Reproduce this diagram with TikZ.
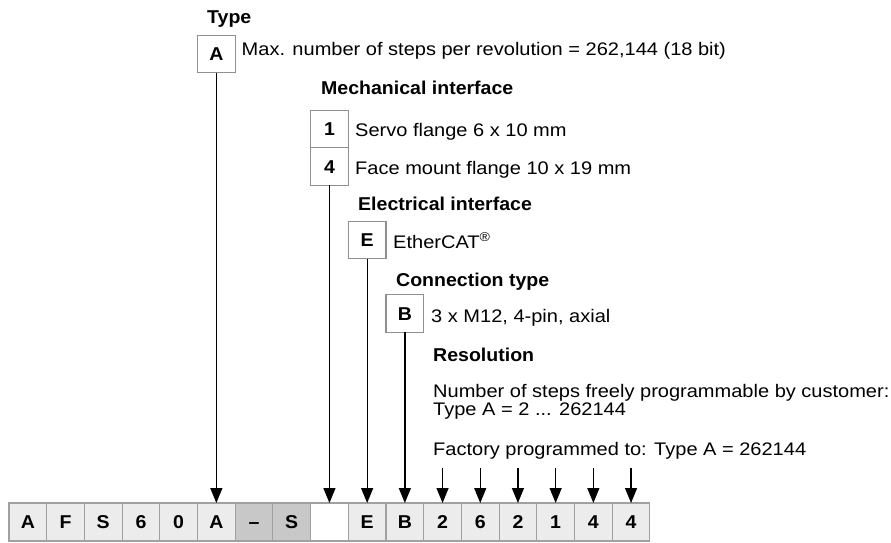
\documentclass[tikz,border=0pt]{standalone}
\usepackage{fontspec}
\setmainfont{Liberation Sans}
\newfontfamily\bodyf[FakeStretch=1.10]{Liberation Sans}
\newfontfamily\titlef[FakeStretch=1.05]{Liberation Sans}
\usetikzlibrary{arrows.meta}
\definecolor{cellfill}{HTML}{ECECEC}
\definecolor{celldark}{HTML}{C8C8C8}
\definecolor{cellborder}{HTML}{A0A0A0}
\definecolor{boxborder}{HTML}{909090}
\begin{document}
\begin{tikzpicture}[x=1pt,y=-1pt,
  cell/.style={draw=cellborder, line width=1.1pt, fill=cellfill, minimum width=37.7pt, minimum height=38pt, inner sep=0pt, outer sep=0pt, text height=13.4pt, text depth=0pt, font=\titlef\bfseries\fontsize{18.6}{20}\selectfont},
  keybox/.style={draw=boxborder, line width=1.1pt, fill=white, minimum width=37.7pt, minimum height=37.5pt, inner sep=0pt, outer sep=0pt, text height=13.4pt, text depth=0pt, font=\titlef\bfseries\fontsize{18.6}{20}\selectfont},
  title/.style={anchor=base west, inner sep=0pt, font=\titlef\bfseries\fontsize{18.6}{22}\selectfont},
  desc/.style={anchor=base west, inner sep=0pt, font=\bodyf\fontsize{18.2}{22}\selectfont},
  conn/.style={line width=1.3pt, -{Triangle[width=12pt,length=15pt]}}]
\useasboundingbox (0,0) rectangle (891,542);

% code cells
\node[cell] (c0) at (27.85,522) {A};
\node[cell] (c1) at (65.55,522) {F};
\node[cell] (c2) at (103.25,522) {S};
\node[cell] (c3) at (140.95,522) {6};
\node[cell] (c4) at (178.65,522) {0};
\node[cell] (c5) at (216.35,522) {A};
\node[cell, fill=celldark] (c6) at (254.05,522) {–};
\node[cell, fill=celldark] (c7) at (291.75,522) {S};
\node[cell, fill=white] (c8) at (329.45,522) {};
\node[cell] (c9) at (367.15,522) {E};
\node[cell] (c10) at (404.85,522) {B};
\node[cell] (c11) at (442.55,522) {2};
\node[cell] (c12) at (480.25,522) {6};
\node[cell] (c13) at (517.95,522) {2};
\node[cell] (c14) at (555.65,522) {1};
\node[cell] (c15) at (593.35,522) {4};
\node[cell] (c16) at (631.05,522) {4};

% key boxes
\node[keybox] (bA) at (216.35,54) {A};
\node[keybox] (b1) at (329.45,129) {1};
\node[keybox] (b4) at (329.45,166.5) {4};
\node[keybox] (bE) at (367.15,240) {E};
\node[keybox] (bB) at (404.85,313.5) {B};

% texts
\node[title] (tType) at (207,23.5) {Type};
\node[desc] (dA) at (241.5,55.5) {Max. number of steps per revolution = 262,144 (18 bit)};
\node[title] (tMech) at (321,94.5) {Mechanical interface};
\node[desc] (d1) at (355,136.5) {Servo flange 6 x 10 mm};
\node[desc] (d4) at (355,174) {Face mount flange 10 x 19 mm};
\node[title] (tElec) at (358,210.5) {Electrical interface};
\node[desc] (dE) at (393,248) {EtherCAT\textsuperscript{®}};
\node[title] (tConn) at (396,286) {Connection type};
\node[desc] (dB) at (431,322) {3 x M12, 4-pin, axial};
\node[title] (tRes) at (433,361) {Resolution};
\node[desc] (dR1) at (433,397) {Number of steps freely programmable by customer:};
\node[desc] (dR2) at (433,415.5) {Type A = 2 ... 262144};
\node[desc] (dR3) at (433,455) {Factory programmed to: Type A = 262144};

% connectors
\draw[conn] (bA.south) -- (c5.north);
\draw[conn] (b4.south) -- (c8.north);
\draw[conn] (bE.south) -- (c9.north);
\draw[conn] (bB.south) -- (c10.north);
\foreach \i in {11,...,16}{
  \coordinate (t\i) at ([yshift=35pt]c\i.north);
  \draw[conn] (t\i) -- (c\i.north);
}
\end{tikzpicture}
\end{document}
